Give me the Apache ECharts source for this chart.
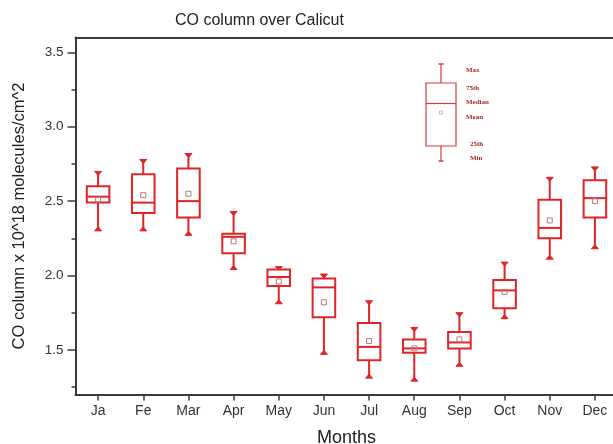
<!DOCTYPE html>
<html>
<head>
<meta charset="utf-8">
<script src="https://cdn.jsdelivr.net/npm/echarts@6/dist/echarts.min.js"></script>
<style>
  html, body { margin: 0; padding: 0; background: #fff; }
  #chart { width: 613px; height: 444px; }
</style>
</head>
<body>
<div id="chart"></div>
<script>
// Monthly CO column statistics (x 10^18 molecules/cm^2)
const months   = ['Ja', 'Fe', 'Mar', 'Apr', 'May', 'Jun', 'Jul', 'Aug', 'Sep', 'Oct', 'Nov', 'Dec'];
const maxVals  = [2.69, 2.77, 2.81, 2.42, 2.05, 2.00, 1.82, 1.64, 1.74, 2.08, 2.65, 2.72];
const q3Vals   = [2.60, 2.68, 2.72, 2.28, 2.04, 1.98, 1.68, 1.57, 1.62, 1.97, 2.51, 2.64];
const medVals  = [2.53, 2.49, 2.50, 2.26, 1.99, 1.92, 1.52, 1.51, 1.55, 1.90, 2.32, 2.52];
const meanVals = [2.51, 2.54, 2.55, 2.23, 1.96, 1.82, 1.56, 1.51, 1.57, 1.89, 2.37, 2.50];
const q1Vals   = [2.49, 2.42, 2.39, 2.15, 1.93, 1.72, 1.43, 1.48, 1.51, 1.78, 2.25, 2.39];
const minVals  = [2.31, 2.31, 2.28, 2.05, 1.82, 1.48, 1.32, 1.30, 1.40, 1.72, 2.12, 2.19];

const yMajorTicks = [1.5, 2.0, 2.5, 3.0, 3.5];
const yMinorTicks = [1.25, 1.75, 2.25, 2.75, 3.25];

const RED = '#e02428';
const AXIS = '#3a3a3a';
const TEXT = '#333';
const SANS = 'Liberation Sans, Arial, sans-serif';

const boxData = months.map((m, i) => [i, minVals[i], q1Vals[i], medVals[i], q3Vals[i], maxVals[i], meanVals[i]]);

function renderBox(params, api) {
  const i = api.value(0);
  const pMin = api.coord([i, api.value(1)]);
  const pQ1 = api.coord([i, api.value(2)]);
  const pMed = api.coord([i, api.value(3)]);
  const pQ3 = api.coord([i, api.value(4)]);
  const pMax = api.coord([i, api.value(5)]);
  const pMean = api.coord([i, api.value(6)]);
  const x = pMed[0];
  const bw = api.size([1, 0])[0] * 0.5;
  const cap = 3.5;
  const lineStyle = { stroke: RED, lineWidth: 2, fill: null };
  return {
    type: 'group',
    children: [
      { type: 'line', shape: { x1: x, y1: pMax[1], x2: x, y2: pQ3[1] }, style: lineStyle },
      { type: 'line', shape: { x1: x, y1: pQ1[1], x2: x, y2: pMin[1] }, style: lineStyle },
      // whisker end marks
      { type: 'polygon', shape: { points: [[x - cap, pMax[1] - 1.5], [x + cap, pMax[1] - 1.5], [x, pMax[1] + 2.5]] }, style: { fill: RED, stroke: RED, lineWidth: 1 } },
      { type: 'polygon', shape: { points: [[x - cap, pMin[1] + 1.5], [x + cap, pMin[1] + 1.5], [x, pMin[1] - 2.5]] }, style: { fill: RED, stroke: RED, lineWidth: 1 } },
      { type: 'rect', shape: { x: x - bw / 2, y: pQ3[1], width: bw, height: pQ1[1] - pQ3[1] }, style: { stroke: RED, lineWidth: 2, fill: '#fff' } },
      { type: 'line', shape: { x1: x - bw / 2, y1: pMed[1], x2: x + bw / 2, y2: pMed[1] }, style: lineStyle },
      { type: 'rect', shape: { x: x - 2.5, y: pMean[1] - 2.5, width: 5, height: 5 }, style: { stroke: '#b87878', lineWidth: 1, fill: null } }
    ]
  };
}

// Key explaining the box elements
const keyX = 441;
const keyRed = '#d43c3c';
const keyText = '#a82828';
const keyFont = 'bold 7px "Liberation Serif", "DejaVu Serif", serif';
function keyLabel(text, x, y) {
  return { type: 'text', x: x, y: y, style: { text: text, font: keyFont, fill: keyText, textVerticalAlign: 'middle' } };
}
const keyGraphic = {
  type: 'group',
  children: [
    { type: 'line', shape: { x1: keyX, y1: 64, x2: keyX, y2: 83 }, style: { stroke: keyRed, lineWidth: 1.2 } },
    { type: 'line', shape: { x1: keyX, y1: 146, x2: keyX, y2: 161 }, style: { stroke: keyRed, lineWidth: 1.2 } },
    { type: 'line', shape: { x1: keyX - 2.5, y1: 64, x2: keyX + 2.5, y2: 64 }, style: { stroke: keyRed, lineWidth: 1.5 } },
    { type: 'line', shape: { x1: keyX - 2.5, y1: 161, x2: keyX + 2.5, y2: 161 }, style: { stroke: keyRed, lineWidth: 1.5 } },
    { type: 'rect', shape: { x: keyX - 15, y: 83, width: 30, height: 63 }, style: { stroke: keyRed, lineWidth: 1.2, fill: null } },
    { type: 'line', shape: { x1: keyX - 15, y1: 103.5, x2: keyX + 15, y2: 103.5 }, style: { stroke: keyRed, lineWidth: 1.2 } },
    { type: 'rect', shape: { x: keyX - 1.5, y: 111, width: 3, height: 3 }, style: { stroke: '#c8a0a0', lineWidth: 0.8, fill: null } },
    keyLabel('Max', 466, 70),
    keyLabel('75th', 466, 88),
    keyLabel('Median', 466, 102.5),
    keyLabel('Mean', 466, 117.5),
    keyLabel('25th', 470, 144.5),
    keyLabel('Min', 470, 158.5)
  ]
};

const chart = echarts.init(document.getElementById('chart'), null, { renderer: 'canvas' });
chart.setOption({
  animation: false,
  backgroundColor: '#fff',
  title: {
    text: 'CO column over Calicut',
    left: 170,
    top: 8,
    textStyle: { fontFamily: SANS, fontSize: 16, fontWeight: 'normal', color: '#222' }
  },
  grid: { left: 75.5, right: -4.5, top: 37.5, bottom: 49.5, containLabel: false, outerBoundsMode: 'none' },
  xAxis: [
    {
      type: 'category',
      data: months,
      position: 'bottom',
      boundaryGap: true,
      axisLine: { show: true, lineStyle: { color: AXIS, width: 2 } },
      axisTick: { show: true, alignWithLabel: true, length: 6, lineStyle: { color: AXIS, width: 1.5 } },
      axisLabel: { color: TEXT, fontFamily: SANS, fontSize: 14, margin: 10 },
      splitLine: { show: false },
      name: 'Months',
      nameLocation: 'middle',
      nameGap: 35,
      nameTextStyle: { color: '#222', fontFamily: SANS, fontSize: 18 }
    },
    {
      type: 'category',
      data: months,
      position: 'top',
      axisLine: { show: true, lineStyle: { color: AXIS, width: 2 } },
      axisTick: { show: false },
      axisLabel: { show: false },
      splitLine: { show: false }
    }
  ],
  yAxis: [
    {
      type: 'value',
      min: 1.2,
      max: 3.6,
      axisLine: { show: true, lineStyle: { color: AXIS, width: 2 } },
      axisTick: { show: true, length: 8, customValues: yMajorTicks, lineStyle: { color: AXIS, width: 1.5 } },
      axisLabel: { color: TEXT, fontFamily: SANS, fontSize: 13.5, margin: 12, customValues: yMajorTicks, formatter: v => v.toFixed(1) },
      splitLine: { show: false },
      name: 'CO column x 10^18 molecules/cm^2',
      nameLocation: 'middle',
      nameGap: 48,
      nameTextStyle: { color: '#222', fontFamily: SANS, fontSize: 16.5 }
    },
    {
      type: 'value',
      min: 1.2,
      max: 3.6,
      position: 'left',
      axisLine: { show: false },
      axisTick: { show: true, length: 4, customValues: yMinorTicks, lineStyle: { color: AXIS, width: 1.5 } },
      axisLabel: { show: false },
      splitLine: { show: false }
    }
  ],
  series: [
    {
      type: 'custom',
      xAxisIndex: 0,
      yAxisIndex: 0,
      renderItem: renderBox,
      encode: { x: 0, y: [1, 2, 3, 4, 5, 6] },
      data: boxData,
      clip: false
    }
  ],
  graphic: [keyGraphic]
});
</script>
</body>
</html>
